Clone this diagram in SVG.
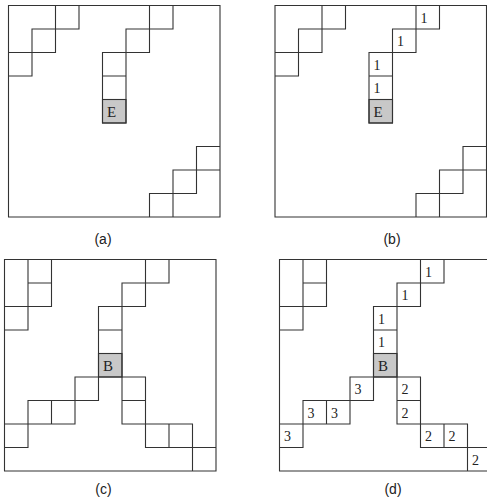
<svg xmlns="http://www.w3.org/2000/svg" width="487" height="503" viewBox="0 0 487 503">
<style>
.bg{fill:#fff}
.ln{fill:none;stroke:#333;stroke-width:1.1;stroke-linecap:square}
.sh{fill:#c8c8c8;stroke:#333;stroke-width:1.1}
.t{font-family:"Liberation Serif",serif;font-size:15px;fill:#222}
.n{font-family:"Liberation Serif",serif;font-size:14px;fill:#222}
.lb{font-family:"Liberation Sans",Arial,sans-serif;font-size:14px;fill:#222;text-anchor:middle}
</style>
<defs>
<path id="gridAB" d="M0 0H211.5V211.5H0Z M70.5 0V23.5 M47 0V47 M23.5 23.5H70.5 M23.5 23.5V70.5 M0 47H47 M0 70.5H23.5 M164.5 0V23.5 M141 0V47 M117.5 23.5H164.5 M117.5 23.5V117.5 M94 47H141 M94 47V117.5 M94 70.5H117.5 M94 94H117.5 M94 117.5H117.5 M188 141H211.5 M188 141V188 M164.5 164.5H211.5 M164.5 164.5V211.5 M141 188H188 M141 188V211.5"/>
<path id="gridCD" d="M0 0H211.5V211.5H0Z M23.5 0V70.5 M47 0V47 M23.5 23.5H47 M0 47H47 M0 70.5H23.5 M164.5 0V23.5 M141 0V47 M117.5 23.5H164.5 M117.5 23.5V164.5 M94 47H141 M94 47V141 M94 70.5H117.5 M94 94H117.5 M70.5 117.5H141 M70.5 117.5V164.5 M23.5 141H94 M47 141V164.5 M23.5 141V188 M0 164.5H70.5 M0 188H23.5 M141 117.5V188 M117.5 141H141 M117.5 164.5H188 M164.5 164.5V188 M188 164.5V211.5 M141 188H211.5"/>
</defs>
<rect class="bg" x="0" y="0" width="487" height="503"/>

<g id="panel-a" transform="translate(8.5,5.5)">
<rect class="sh" x="94" y="94" width="23.5" height="23.5"/>
<use href="#gridAB" class="ln"/>
<text class="t" x="98.5" y="111">E</text>
</g>
<text id="label-a" class="lb" x="103" y="244">(a)</text>

<g id="panel-b" transform="translate(275,5.5)">
<rect class="sh" x="94" y="94" width="23.5" height="23.5"/>
<use href="#gridAB" class="ln"/>
<text class="t" x="98.5" y="111">E</text>
<text class="n" x="145.5" y="17">1</text>
<text class="n" x="122" y="40.5">1</text>
<text class="n" x="98.5" y="64">1</text>
<text class="n" x="98.5" y="87.5">1</text>
</g>
<text id="label-b" class="lb" x="392" y="244">(b)</text>

<g id="panel-c" transform="translate(4.5,259.5)">
<rect class="sh" x="94" y="94" width="23.5" height="23.5"/>
<use href="#gridCD" class="ln"/>
<text class="t" x="98.5" y="111">B</text>
</g>
<text id="label-c" class="lb" x="103.5" y="494">(c)</text>

<g id="panel-d" transform="translate(279.5,259.5)">
<rect class="sh" x="94" y="94" width="23.5" height="23.5"/>
<use href="#gridCD" class="ln"/>
<text class="t" x="98.5" y="111">B</text>
<text class="n" x="145.5" y="17">1</text>
<text class="n" x="122" y="40.5">1</text>
<text class="n" x="98.5" y="64">1</text>
<text class="n" x="98.5" y="87.5">1</text>
<text class="n" x="75" y="134.5">3</text>
<text class="n" x="28" y="158">3</text>
<text class="n" x="51.5" y="158">3</text>
<text class="n" x="4.5" y="181.5">3</text>
<text class="n" x="122" y="134.5">2</text>
<text class="n" x="122" y="158">2</text>
<text class="n" x="145.5" y="181.5">2</text>
<text class="n" x="169" y="181.5">2</text>
<text class="n" x="192.5" y="205">2</text>
</g>
<text id="label-d" class="lb" x="393" y="494">(d)</text>
</svg>
